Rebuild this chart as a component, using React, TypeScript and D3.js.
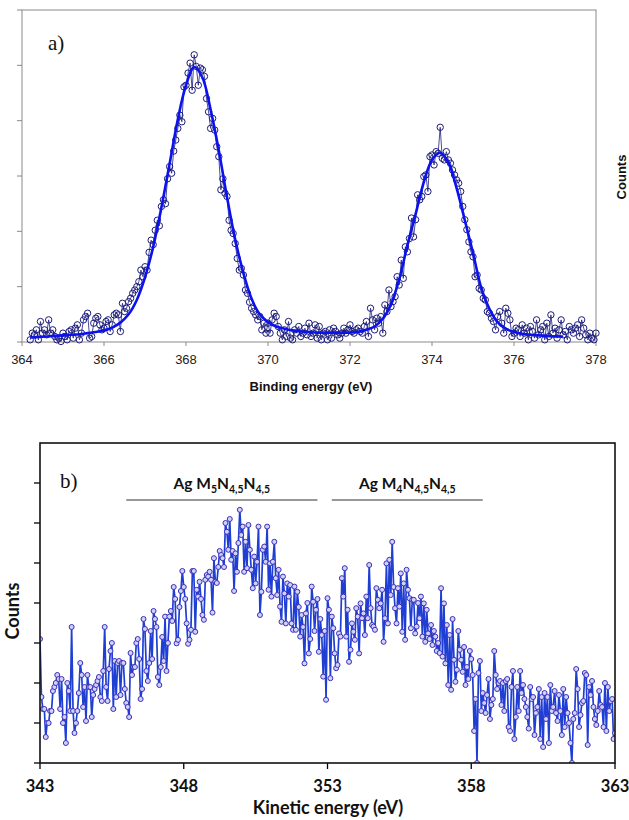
import React from 'react';
import * as d3 from 'd3';

// ---------- Panel a) XPS Ag 3d ----------
const bindingStart = 364.2;
const bindingStep = 0.05;
const xpsCounts = [
  // 364.20 - 364.95
  0.04, 0.16, 0.13, 0.22, 0.04, 0.37, 0.16, 0.22, 0.13, 0.40, 0.16, 0.22, 0.10, 0.04, 0.07, 0.01,
  // 365
  0.16, 0.10, 0.04, 0.19, 0.22, 0.07, 0.25, 0.31, 0.04, 0.16, 0.40, 0.46, 0.52, 0.07, 0.10, 0.34, 0.43, 0.46, 0.31, 0.22,
  // 366
  0.25, 0.37, 0.40, 0.19, 0.31, 0.49, 0.52, 0.49, 0.19, 0.70, 0.55, 0.61, 0.73, 0.79, 0.88, 0.94, 1.00, 1.09, 1.30, 1.18,
  // 367
  1.36, 1.30, 1.62, 1.84, 1.76, 2.02, 2.20, 2.10, 2.45, 2.57, 2.50, 2.95, 3.17, 3.05, 3.45, 3.65, 3.86, 4.10, 3.98, 4.61,
  // 368
  4.64, 4.86, 5.04, 4.55, 5.19, 4.98, 4.64, 4.95, 4.92, 4.80, 4.40, 4.16, 3.86, 4.04, 3.83, 3.53, 3.35, 2.75, 2.95, 2.69,
  // 369
  2.63, 2.20, 2.02, 1.96, 1.78, 1.51, 1.30, 1.33, 1.21, 0.94, 0.88, 0.72, 0.61, 0.55, 0.49, 0.40, 0.46, 0.22, 0.34, 0.16,
  // 370
  0.34, 0.16, 0.40, 0.52, 0.46, 0.28, 0.16, 0.04, 0.22, 0.10, 0.37, 0.07, 0.04, 0.22, 0.16, 0.28, 0.10, 0.16, 0.25, 0.13,
  // 371
  0.34, 0.10, 0.16, 0.31, 0.07, 0.28, 0.04, 0.16, 0.19, 0.04, 0.22, 0.07, 0.25, 0.19, 0.13, 0.07, 0.16, 0.25, 0.16, 0.22,
  // 372.00 - 372.25
  0.31, 0.19, 0.16, 0.22, 0.25, 0.19,
  // 372.30 - 376.05
  0.16, 0.28, 0.37, 0.10, 0.61, 0.40, 0.22, 0.43, 0.34, 0.46,
  0.16, 0.67, 0.55, 0.94, 0.64, 0.73, 0.82, 1.18, 1.03, 1.48,
  1.15, 1.72, 1.63, 1.87, 2.24, 1.90, 2.21, 2.66, 2.57, 2.63,
  2.99, 3.02, 2.72, 3.35, 3.38, 3.20, 3.44, 3.41, 3.88, 3.32,
  3.29, 3.44, 3.29, 3.23, 3.11, 3.02, 2.93, 2.87, 2.72, 2.45,
  2.21, 2.03, 1.81, 1.63, 1.54, 1.18, 1.21, 0.97, 0.94, 0.79,
  0.76, 0.55, 0.52, 0.43, 0.37, 0.22, 0.46, 0.55, 0.34, 0.16,
  0.61, 0.52, 0.40, 0.10, 0.16, 0.25,
  // 376.10 - 378.00
  0.22, 0.10, 0.31, 0.16, 0.25, 0.04, 0.28, 0.19, 0.07, 0.40,
  0.13, 0.22, 0.28, 0.04, 0.34, 0.10, 0.49, 0.16, 0.25, 0.07,
  0.22, 0.40, 0.13, 0.19, 0.04, 0.28, 0.22, 0.16, 0.25, 0.31,
  0.10, 0.40, 0.25, 0.13, 0.04, 0.16, 0.07, 0.04, 0.16,
];

const fitStart = 364.2;
const fitStep = 0.2;
const xpsFit = [
  0.08, 0.09, 0.10, 0.11, 0.12, 0.13, 0.14, 0.16, 0.18, 0.21,
  0.26, 0.35, 0.50, 0.76, 1.17, 1.72, 2.43, 3.22, 4.02, 4.64,
  4.97, 4.78, 4.20, 3.46, 2.62, 1.85, 1.25, 0.78, 0.50, 0.36,
  0.28, 0.24, 0.21, 0.19, 0.18, 0.17, 0.17, 0.17, 0.17, 0.17,
  0.18, 0.22, 0.28, 0.42, 0.68, 1.13, 1.75, 2.31, 2.89, 3.29,
  3.42, 3.24, 2.78, 2.20, 1.61, 0.98, 0.60, 0.36, 0.24, 0.18,
  0.15, 0.13, 0.12, 0.11, 0.10, 0.10,
];

const xpsXTicks = [364, 366, 368, 370, 372, 374, 376, 378];
const xpsYTicks = [0, 1, 2, 3, 4, 5, 6];

// ---------- Panel b) Auger Ag MNN ----------
const kineticStart = 343.0;
const kineticStep = 0.05;
const augerCounts = [
  // 343
  3.1, 1.65, 1.35, 1.35, 0.65, 1.0, 1.0, 1.3, 1.3, 1.8, 1.9, 2.0, 2.2, 2.1, 1.35, 2.1, 1.0, 1.15, 0.5, 2.0,
  // 344
  1.8, 1.3, 3.4, 1.3, 0.75, 1.0, 1.3, 1.75, 2.5, 2.2, 1.4, 1.9, 1.05, 2.2, 1.9, 1.9, 1.15, 1.7, 1.85, 1.95,
  // 345
  2.05, 2.15, 1.65, 1.55, 2.3, 3.4, 1.9, 1.55, 2.35, 2.8, 3.0, 1.35, 2.55, 1.65, 2.5, 2.55, 1.7, 2.5, 2.5, 1.85,
  // 346
  1.5, 1.4, 1.15, 2.75, 2.2, 2.4, 2.4, 3.0, 3.1, 2.6, 1.6, 1.85, 3.6, 3.35, 2.3, 2.05, 2.5, 3.3, 2.6, 3.8,
  // 347
  3.6, 3.4, 2.15, 1.95, 2.4, 3.15, 2.55, 3.66, 2.3, 3.0, 3.66, 3.8, 3.55, 4.4, 4.1, 2.99, 3.08, 3.9, 4.3, 4.8,
  // 348
  4.4, 4.1, 3.49, 2.98, 3.08, 3.33, 4.8, 4.8, 3.28, 4.33, 4.16, 4.53, 4.1, 3.7, 3.58, 4.58, 4.7, 4.66, 4.78, 4.58,
  // 349
  3.76, 5.12, 4.53, 4.5, 4.9, 5.3, 5.2, 5.12, 4.9, 6.0, 5.78, 5.33, 6.1, 5.08, 5.3, 4.3, 5.24, 4.78, 5.5, 6.33,
  // 350
  5.7, 5.91, 4.78, 5.53, 4.87, 5.95, 5.33, 4.83, 4.37, 5.16, 4.49, 5.03, 5.91, 3.7, 4.28, 5.33, 5.41, 5.03, 5.91, 4.33,
  // 351
  4.99, 4.16, 5.03, 5.53, 4.62, 4.2, 4.83, 3.91, 3.53, 4.66, 4.24, 3.49, 4.49, 4.16, 4.45, 3.49, 3.33, 4.41, 3.33, 4.28,
  // 352
  3.9, 3.16, 3.7, 3.4, 2.49, 3.74, 4.0, 2.74, 3.1, 4.41, 4.03, 3.3, 3.83, 4.1, 2.78, 3.6, 3.2, 2.16, 3.3, 1.58,
  // 353
  4.12, 3.83, 2.12, 3.66, 3.37, 2.74, 2.37, 2.45, 3.24, 3.16, 4.62, 4.16, 4.87, 3.16, 3.83, 2.53, 2.83, 3.49, 3.28, 3.08,
  // 354
  3.87, 3.66, 2.74, 3.99, 3.62, 3.74, 3.2, 4.16, 3.62, 4.95, 3.87, 3.45, 3.41, 3.33, 4.37, 4.08, 3.87, 3.99, 4.33, 3.03,
  // 355
  3.62, 4.99, 3.49, 5.08, 4.2, 5.53, 4.4, 3.87, 3.49, 4.37, 3.91, 4.74, 3.28, 4.49, 3.08, 4.83, 4.33, 4.12, 3.37, 4.08,
  // 356
  4.08, 3.24, 3.41, 4.0, 3.62, 4.16, 3.16, 3.99, 3.03, 3.83, 3.24, 3.1, 3.45, 2.95, 3.3, 3.16, 2.8, 3.0, 2.75, 4.37,
  // 357
  2.66, 3.99, 2.49, 3.45, 1.95, 3.2, 1.83, 3.6, 2.58, 2.03, 2.33, 3.3, 2.83, 2.58, 2.28, 2.9, 1.95, 2.4, 2.1, 2.8,
  // 358.00 - 363.00
  2.6, 2.2, 0.8, 1.6, 0, 2.25, 2.55, 1.3, 1.75, 1.5,
  1.25, 1.7, 2.1, 1.1, 1.45, 1.6, 2.8, 2.2, 1.85, 2.0,
  2.05, 1.45, 2.0, 1.3, 2.05, 2.1, 0.9, 0.8, 1.9, 2.3,
  0.6, 1.15, 1.9, 1.3, 2.3, 1.75, 1.95, 1.6, 1.4, 1.15,
  0.86, 1.9, 1.6, 1.65, 0.7, 1.25, 1.4, 1.85, 0.6, 1.65,
  0.4, 1.75, 1.1, 1.65, 0.5, 1.95, 1.3, 1.4, 1.8, 1.25,
  1.05, 1.7, 1.3, 0.7, 1.85, 0.9, 1.65, 1.25, 1.0, 0.5,
  0, 1.1, 1.25, 2.35, 1.85, 0.9, 1.2, 1.5, 1.55, 2.25,
  2.2, 0.45, 1.9, 1.7, 2.05, 1.4, 1.1, 0.95, 1.3, 1.8,
  1.45, 1.4, 0.9, 2.0, 0.8, 1.9, 1.3, 1.55, 1.6, 0.6, 0.75,
];

const augerXTicks = [343, 348, 353, 358, 363];
const augerYTicks = [0, 1, 2, 3, 4, 5, 6, 7];

// annotation ranges (kinetic energy)
const m5Range = [346.0, 352.65];
const m4Range = [353.15, 358.4];

type Pt = { x: number; y: number };

export default function App() {
  // ----- panel a scales -----
  const ax = d3.scaleLinear().domain([364, 378]).range([22, 596]);
  const ay = d3.scaleLinear().domain([0, 6]).range([342, 10]);

  const xpsPts: Pt[] = xpsCounts.map((v, i) => ({ x: bindingStart + i * bindingStep, y: v }));
  const fitPts: Pt[] = xpsFit.map((v, i) => ({ x: fitStart + i * fitStep, y: v }));

  const aLine = d3.line<Pt>().x(d => ax(d.x)).y(d => ay(d.y));
  const aFit = d3.line<Pt>().x(d => ax(d.x)).y(d => ay(d.y)).curve(d3.curveCatmullRom.alpha(0.5));

  // ----- panel b scales -----
  const bx = d3.scaleLinear().domain([343, 363]).range([40, 615]);
  const by = d3.scaleLinear().domain([0, 8]).range([763, 443]);
  const augPts: Pt[] = augerCounts.map((v, i) => ({ x: kineticStart + i * kineticStep, y: v }));
  const bLine = d3.line<Pt>().x(d => bx(d.x)).y(d => by(d.y));

  const grey = '#8a8a8a';
  const sans = 'Liberation Sans, Arial, sans-serif';
  const cal = 'Lato, Open Sans, sans-serif';
  const serif = 'Liberation Serif, Times New Roman, serif';

  return (
    <svg width={629} height={820} style={{ position: 'absolute', left: 0, top: 0, background: '#fff' }}>
      <defs>
        <clipPath id="clipB">
          <rect x={40} y={443} width={575} height={320} />
        </clipPath>
      </defs>

      {/* ================= Panel a ================= */}
      <rect x={ax(364)} y={ay(6)} width={ax(378) - ax(364)} height={ay(0) - ay(6)} fill="none" stroke={grey} strokeWidth={1} />
      {xpsYTicks.map(t => (
        <line key={'ayt' + t} x1={ax(364) - 5} x2={ax(364)} y1={ay(t)} y2={ay(t)} stroke={grey} strokeWidth={1} />
      ))}
      {xpsXTicks.map(t => (
        <g key={'axt' + t}>
          <line x1={ax(t)} x2={ax(t)} y1={ay(0)} y2={ay(0) + 4} stroke={grey} strokeWidth={1} />
          <text x={ax(t)} y={ay(0) + 22} textAnchor="middle" fontFamily={sans} fontSize={13} fill="#222">{t}</text>
        </g>
      ))}
      <path d={aLine(xpsPts) || ''} fill="none" stroke="#1c1c7a" strokeWidth={0.8} />
      {xpsPts.map((p, i) => (
        <circle key={'ap' + i} cx={ax(p.x)} cy={ay(p.y)} r={3.2} fill="none" stroke="#1c1c7a" strokeWidth={1} />
      ))}
      <path d={aFit(fitPts) || ''} fill="none" stroke="#0c12ee" strokeWidth={2.6} />
      <text x={48} y={50} fontFamily={serif} fontSize={21} fill="#111">a)</text>
      <text x={311} y={391} textAnchor="middle" fontFamily={sans} fontSize={13} fontWeight="bold" fill="#111">Binding energy  (eV)</text>
      <text transform="translate(626,177) rotate(-90)" textAnchor="middle" fontFamily={sans} fontSize={13} fontWeight="bold" fill="#111">Counts</text>

      {/* ================= Panel b ================= */}
      {augerYTicks.map(t => (
        <line key={'byt' + t} x1={bx(343) - 6} x2={bx(343)} y1={by(t)} y2={by(t)} stroke="#000" strokeWidth={1.3} />
      ))}
      {augerXTicks.map(t => (
        <g key={'bxt' + t}>
          <line x1={bx(t)} x2={bx(t)} y1={by(0)} y2={by(0) + 6} stroke="#000" strokeWidth={1.3} />
          <text x={bx(t)} y={by(0) + 29} textAnchor="middle" fontFamily={cal} fontSize={16.5} fontWeight="bold" fill="#111">{t}</text>
        </g>
      ))}
      <g clipPath="url(#clipB)">
        <path d={bLine(augPts) || ''} fill="none" stroke="#1f3fd4" strokeWidth={1.7} />
        {augPts.map((p, i) => (
          <circle key={'bp' + i} cx={bx(p.x)} cy={by(p.y)} r={2.5} fill="#d0d0fa" stroke="#3a2fb8" strokeWidth={1} />
        ))}
      </g>
      <rect x={bx(343)} y={by(8)} width={bx(363) - bx(343)} height={by(0) - by(8)} fill="none" stroke="#111" strokeWidth={1.6} />

      <text x={60} y={488} fontFamily={serif} fontSize={21} fill="#111">b)</text>

      <line x1={bx(m5Range[0])} x2={bx(m5Range[1])} y1={500} y2={500} stroke="#333" strokeWidth={1.2} />
      <line x1={bx(m4Range[0])} x2={bx(m4Range[1])} y1={500} y2={500} stroke="#333" strokeWidth={1.2} />
      <text x={(bx(m5Range[0]) + bx(m5Range[1])) / 2} y={489} textAnchor="middle" fontFamily={cal} fontSize={15.5} fontWeight="bold" fill="#111">
        Ag M<tspan fontSize={10.5} dy={4}>5</tspan><tspan dy={-4}>N</tspan><tspan fontSize={10.5} dy={4}>4,5</tspan><tspan dy={-4}>N</tspan><tspan fontSize={10.5} dy={4}>4,5</tspan>
      </text>
      <text x={(bx(m4Range[0]) + bx(m4Range[1])) / 2} y={489} textAnchor="middle" fontFamily={cal} fontSize={15.5} fontWeight="bold" fill="#111">
        Ag M<tspan fontSize={10.5} dy={4}>4</tspan><tspan dy={-4}>N</tspan><tspan fontSize={10.5} dy={4}>4,5</tspan><tspan dy={-4}>N</tspan><tspan fontSize={10.5} dy={4}>4,5</tspan>
      </text>

      <text x={328} y={814} textAnchor="middle" fontFamily={cal} fontSize={18} fontWeight="bold" fill="#111">Kinetic energy (eV)</text>
      <text transform="translate(19,611) rotate(-90)" textAnchor="middle" fontFamily={cal} fontSize={18} fontWeight="bold" fill="#111">Counts</text>
    </svg>
  );
}
